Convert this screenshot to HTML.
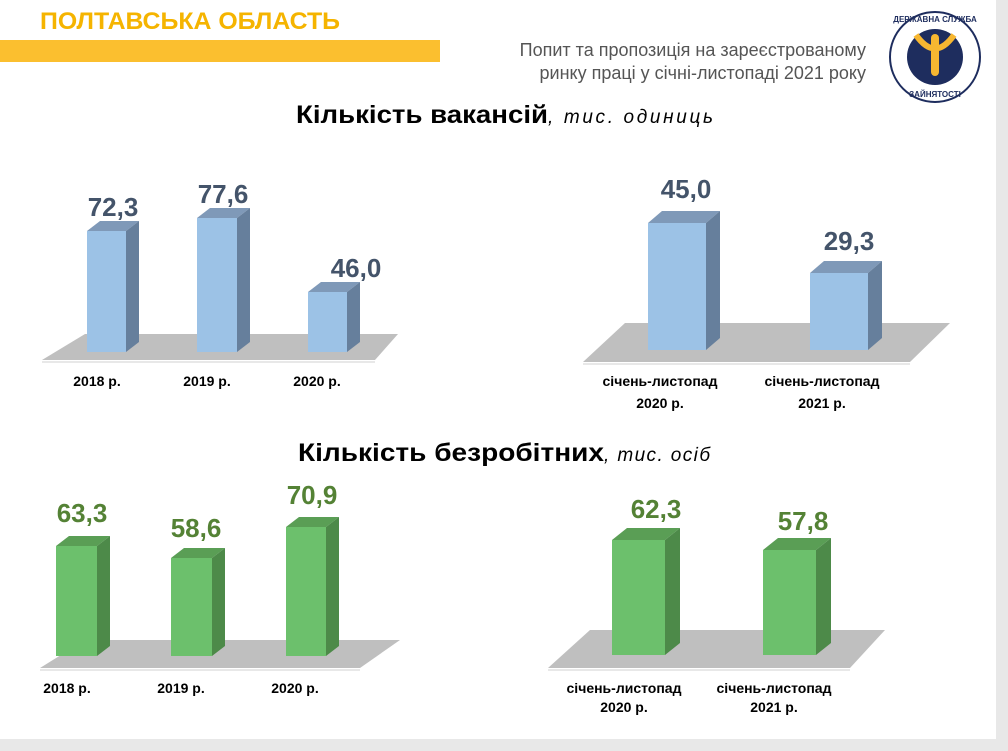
<!DOCTYPE html>
<html><head><meta charset="utf-8"><style>
body{margin:0;background:#fff;}
svg{display:block;font-family:"Liberation Sans",sans-serif;}
</style></head><body>
<svg width="1008" height="751" viewBox="0 0 1008 751">
<rect x="0" y="0" width="1008" height="751" fill="#e8e8e8"/>
<rect x="0" y="0" width="996" height="739" fill="#fff"/>
<text x="40" y="29" font-size="24" font-weight="bold" fill="#f5b400" textLength="300" lengthAdjust="spacingAndGlyphs">ПОЛТАВСЬКА ОБЛАСТЬ</text>
<rect x="0" y="40" width="440" height="22" fill="#fbbf2f"/>
<text x="866" y="56" font-size="18" fill="#555" text-anchor="end">Попит та пропозиція на зареєстрованому</text>
<text x="866" y="79" font-size="18" fill="#555" text-anchor="end">ринку праці у січні-листопаді 2021 року</text>
<circle cx="935" cy="57" r="45" fill="#fff" stroke="#1e2d5e" stroke-width="2"/>
<circle cx="935" cy="57" r="28" fill="#1e2d5e"/>
<path d="M916 35 Q935 62 954 35" fill="none" stroke="#f7b731" stroke-width="6"/>
<rect x="931" y="34" width="8" height="42" rx="4" fill="#f7b731"/>
<text x="935" y="22" font-size="8" font-weight="bold" fill="#1e2d5e" text-anchor="middle">ДЕРЖАВНА СЛУЖБА</text>
<text x="935" y="97" font-size="8" font-weight="bold" fill="#1e2d5e" text-anchor="middle">ЗАЙНЯТОСТІ</text>
<text x="296" y="123" font-size="25" font-weight="bold" fill="#000" textLength="252" lengthAdjust="spacingAndGlyphs">Кількість вакансій</text>
<text x="548" y="123" font-size="19" font-style="italic" fill="#000" textLength="165" lengthAdjust="spacing">,  тис.  одиниць</text>
<text x="298" y="461" font-size="25" font-weight="bold" fill="#000" textLength="306" lengthAdjust="spacingAndGlyphs">Кількість безробітних</text>
<text x="604" y="461" font-size="19" font-style="italic" fill="#000" textLength="106" lengthAdjust="spacing">, тис. осіб</text>
<g fill="#bfbfbf">
<polygon points="85,334 398,334 375,360 42,360"/>
<polygon points="625,323 950,323 910,362 583,362"/>
<polygon points="85,640 400,640 360,668 40,668"/>
<polygon points="590,630 885,630 850,668 548,668"/>
</g>
<g stroke="#d0d0d0"><line x1="42" y1="362" x2="375" y2="362"/><line x1="583" y1="364" x2="910" y2="364"/><line x1="40" y1="670" x2="360" y2="670"/><line x1="548" y1="670" x2="850" y2="670"/></g>
<g>
<polygon points="87,231 100,221 139,221 126,231" fill="#7f99b8"/><polygon points="126,231 139,221 139,342 126,352" fill="#667f9c"/><rect x="87" y="231" width="39" height="121" fill="#9cc2e6"/>
<polygon points="197,218 210,208 250,208 237,218" fill="#7f99b8"/><polygon points="237,218 250,208 250,342 237,352" fill="#667f9c"/><rect x="197" y="218" width="40" height="134" fill="#9cc2e6"/>
<polygon points="308,292 321,282 360,282 347,292" fill="#7f99b8"/><polygon points="347,292 360,282 360,342 347,352" fill="#667f9c"/><rect x="308" y="292" width="39" height="60" fill="#9cc2e6"/>
<polygon points="648,223 662,211 720,211 706,223" fill="#7f99b8"/><polygon points="706,223 720,211 720,338 706,350" fill="#667f9c"/><rect x="648" y="223" width="58" height="127" fill="#9cc2e6"/>
<polygon points="810,273 824,261 882,261 868,273" fill="#7f99b8"/><polygon points="868,273 882,261 882,338 868,350" fill="#667f9c"/><rect x="810" y="273" width="58" height="77" fill="#9cc2e6"/>
</g>
<g>
<polygon points="56,546 69,536 110,536 97,546" fill="#5a9e55"/><polygon points="97,546 110,536 110,646 97,656" fill="#4d8a49"/><rect x="56" y="546" width="41" height="110" fill="#6cc06c"/>
<polygon points="171,558 184,548 225,548 212,558" fill="#5a9e55"/><polygon points="212,558 225,548 225,646 212,656" fill="#4d8a49"/><rect x="171" y="558" width="41" height="98" fill="#6cc06c"/>
<polygon points="286,527 299,517 339,517 326,527" fill="#5a9e55"/><polygon points="326,527 339,517 339,646 326,656" fill="#4d8a49"/><rect x="286" y="527" width="40" height="129" fill="#6cc06c"/>
<polygon points="612,540 627,528 680,528 665,540" fill="#5a9e55"/><polygon points="665,540 680,528 680,643 665,655" fill="#4d8a49"/><rect x="612" y="540" width="53" height="115" fill="#6cc06c"/>
<polygon points="763,550 778,538 831,538 816,550" fill="#5a9e55"/><polygon points="816,550 831,538 831,643 816,655" fill="#4d8a49"/><rect x="763" y="550" width="53" height="105" fill="#6cc06c"/>
</g>
<g font-size="26" font-weight="bold" fill="#44546a" text-anchor="middle">
<text x="113" y="216">72,3</text><text x="223" y="203">77,6</text><text x="356" y="277">46,0</text>
<text x="686" y="198">45,0</text><text x="849" y="250">29,3</text>
</g>
<g font-size="26" font-weight="bold" fill="#548235" text-anchor="middle">
<text x="82" y="522">63,3</text><text x="196" y="537">58,6</text><text x="312" y="504">70,9</text>
<text x="656" y="518">62,3</text><text x="803" y="530">57,8</text>
</g>
<g font-size="14" font-weight="bold" fill="#000" text-anchor="middle">
<text x="97" y="386">2018 р.</text><text x="207" y="386">2019 р.</text><text x="317" y="386">2020 р.</text>
<text x="660" y="386">січень-листопад</text><text x="660" y="408">2020 р.</text>
<text x="822" y="386">січень-листопад</text><text x="822" y="408">2021 р.</text>
<text x="67" y="693">2018 р.</text><text x="181" y="693">2019 р.</text><text x="295" y="693">2020 р.</text>
<text x="624" y="693">січень-листопад</text><text x="624" y="712">2020 р.</text>
<text x="774" y="693">січень-листопад</text><text x="774" y="712">2021 р.</text>
</g>
</svg>
</body></html>
